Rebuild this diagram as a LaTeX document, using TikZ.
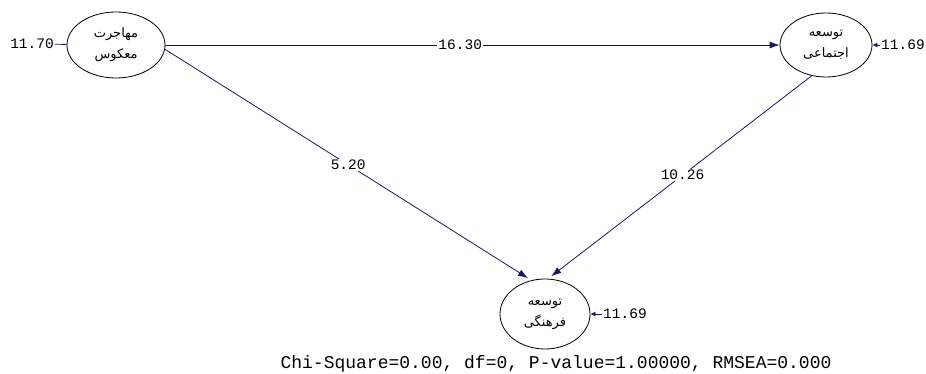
\documentclass[tikz,border=0pt]{standalone}
\usepackage{fontspec}
\usetikzlibrary{shapes.geometric,arrows.meta}
\TeXXeTstate=1
\newfontfamily\arabicfont[Script=Arabic]{DejaVu Sans}
\newfontfamily\lisrelmono{Liberation Mono}
\definecolor{pathnavy}{RGB}{20,20,120}
\begin{document}
\begin{tikzpicture}[x=1pt,y=-1pt,
  latent/.style={ellipse, draw=black, line width=0.8pt, inner sep=0pt, align=center,
    font=\arabicfont\fontsize{13}{21}\selectfont},
  pathline/.style={draw=pathnavy, line width=0.8pt, -{Latex[length=10pt,width=7pt]}},
  errline/.style={draw=pathnavy, line width=0.8pt, -{Latex[length=5pt,width=5pt]}},
  coef/.style={font=\lisrelmono\fontsize{14.5}{16}\selectfont, fill=white, inner sep=1pt}]
\useasboundingbox (0,0) rectangle (926,374);
% latent variables
\node [latent, minimum width=98, minimum height=66] (mm) at (116,45) {\beginR مهاجرت\endR\\\beginR معکوس\endR};
\node [latent, minimum width=92, minimum height=64] (ej) at (826,45) {\beginR توسعه\endR\\\beginR اجتماعی\endR};
\node [latent, minimum width=90, minimum height=70] (fr) at (545,314) {\beginR توسعه\endR\\\beginR فرهنگی\endR};
% error variances
\node [coef, fill=none, anchor=east] (e1) at (55,44) {11.70};
\node [coef, fill=none, anchor=west] (e2) at (880,45) {11.69};
\node [coef, fill=none, anchor=west] (e3) at (602,314) {11.69};
\draw [draw=pathnavy, line width=0.8pt] (e1) -- (mm);
\draw [errline] (e2) -- (ej);
\draw [errline] (e3) -- (fr);
% paths
\draw [pathline] (mm.east) -- node[coef, pos=0.48] {16.30} (ej.west);
\draw [pathline, shorten >=4pt] (mm.-5) -- node[coef] {5.20} (fr.112);
\draw [pathline, shorten >=4pt] (ej.-115) -- node[coef, pos=0.49] {10.26} (fr.85);
% fit statistics
\node [font=\lisrelmono\fontsize{18}{20}\selectfont] (fit) at (556,364) {Chi-Square=0.00, df=0, P-value=1.00000, RMSEA=0.000};
\end{tikzpicture}
\end{document}
